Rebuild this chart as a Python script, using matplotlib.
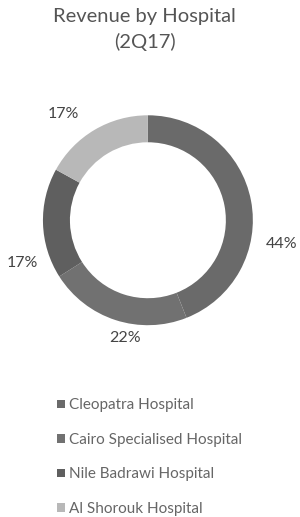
import numpy as np
import matplotlib.pyplot as plt

plt.rcParams['font.family'] = ['Lato', 'DejaVu Sans']

hospitals = ['Cleopatra Hospital', 'Cairo Specialised Hospital',
             'Nile Badrawi Hospital', 'Al Shorouk Hospital']
shares = [44, 22, 17, 17]
colors = ['#6a6a6a', '#717171', '#5f5f5f', '#b8b8b8']

# label placement tweaks (degrees off wedge middle, radius)
lab_shift = [-21, 7, 17, 8]
lab_rad = [1.36, 1.20, 1.33, 1.36]

fig = plt.figure(figsize=(3, 5.17), dpi=100)

# donut, centred roughly at (148, 220) px
ax = fig.add_axes([-0.007, 0.284, 1.0, 0.580])
wedges, texts = ax.pie(shares, colors=colors, startangle=90, counterclock=False,
                       radius=1.05, labels=[str(s) + '%' for s in shares],
                       wedgeprops=dict(width=0.27, edgecolor='none'),
                       textprops=dict(fontsize=11.5, color='#444444'))
for w, t, d, r in zip(wedges, texts, lab_shift, lab_rad):
    a = np.deg2rad((w.theta1 + w.theta2) / 2 + d)
    t.set_position((r * np.cos(a), r * np.sin(a)))
    t.set_horizontalalignment('center')
    t.set_verticalalignment('center')
ax.set_xlim(-1.5, 1.5)
ax.set_ylim(-1.5, 1.5)
ax.set_aspect('equal')
ax.axis('off')

fig.text(0.483, 0.984, 'Revenue by Hospital\n(2Q17)', ha='center', va='top',
         fontsize=14.5, color='#555555', linespacing=1.5)

fig.legend(wedges, hospitals, loc='upper left', bbox_to_anchor=(0.145, 0.256),
           frameon=False, fontsize=11, labelcolor='#666666',
           handlelength=0.5, handleheight=0.5, handletextpad=0.3,
           labelspacing=1.34)

fig.savefig('out.png', dpi=100, facecolor='white')
